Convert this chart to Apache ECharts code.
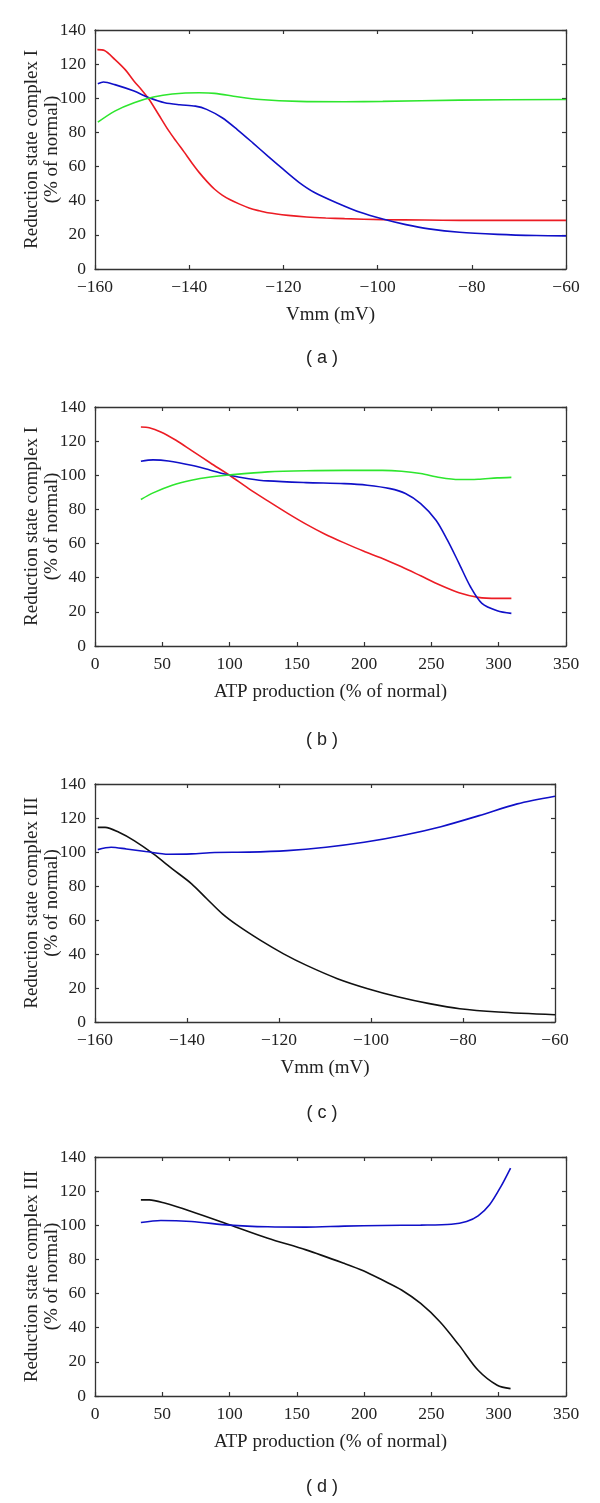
<!DOCTYPE html>
<html><head><meta charset="utf-8">
<script src="https://cdn.jsdelivr.net/npm/echarts@6/dist/echarts.min.js"></script>
<style>html,body{margin:0;padding:0;background:#fff}#c{width:600px;height:1503px}</style>
</head><body><div id="c"></div>
<script>
// ---------- Panel (a): Reduction state complex I vs Vmm ----------
const aRedX   = [-159.5,-158,-155.8,-153.5,-151.7,-150,-148.5,-146.5,-144.4,-142.7,-141.1,-139.5,-137.9,-136.2,-134.6,-133,-131.4,-129.3,-127.3,-125.3,-123.3,-119,-115.1,-111,-107,-98.9,-90,-82.6,-70,-60];
const aRedY   = [128.5,128,122.8,116.5,110,104.6,99.3,90.5,81.2,74.6,68.6,62.4,56.6,51.2,46.7,43.3,40.7,38,35.8,34.2,32.9,31.4,30.5,29.9,29.5,28.9,28.7,28.5,28.5,28.5];
const aBlueX  = [-159.4,-158.2,-155.8,-151.7,-148.5,-145.2,-142,-138.7,-136.3,-133,-129.8,-126.5,-123.3,-120,-116.7,-113.5,-108.6,-103.7,-98.9,-94,-89.1,-82.6,-74.5,-66.3,-60];
const aBlueY  = [108.5,109.5,108,104.2,100.3,97.4,96.2,95.4,93.5,88.6,81.7,73.9,66.1,58.3,50.8,45,38.7,33.2,29.3,26,23.5,21.5,20.3,19.6,19.4];
const aGreenX = [-159.4,-155.8,-151.7,-147.6,-143.6,-137.9,-134.6,-129.8,-124.9,-116.7,-107,-98.9,-82.6,-60];
const aGreenY = [86,92.5,97.4,100.7,102.5,103.2,102.9,100.9,99.3,98.2,98,98.2,98.9,99.3];

// ---------- Panel (b): Reduction state complex I vs ATP production ----------
const bRedX   = [34.1,40.3,48.9,60.2,71.6,85.8,100,114.2,128.4,142.6,156.8,171,185.2,199.4,213.6,227.8,242,256.3,270.5,284.7,298.9,309.4];
const bRedY   = [128.3,127.9,125.4,120.5,114.6,107.2,100,92.2,85,78,71.4,65.5,60.4,55.6,51.3,46.4,41.1,35.7,31.2,28.5,27.9,27.9];
const bBlueX  = [34.1,43.2,54.5,71.6,85.8,100,114.2,128.4,156.8,185.2,202.3,219.3,230.7,242,253.4,261.9,270.5,279,287.5,298.9,309.4];
const bBlueY  = [108.2,109,108.4,105.9,103,100,98,96.7,95.7,95.1,94.2,92.2,89.3,83.4,73.7,62,48.4,34.7,25,20.7,19.1];
const bGreenX = [34.1,43.2,57.4,71.6,85.8,100,128.4,156.8,185.2,213.6,227.8,242,256.3,270.5,284.7,298.9,309.4];
const bGreenY = [85.8,89.7,94.2,97.1,99,100.2,102,102.7,102.9,102.9,102.4,101,98.7,97.5,97.7,98.5,98.8];

// ---------- Panel (c): Reduction state complex III vs Vmm ----------
const cBlackX = [-159.4,-157.8,-154.8,-151.5,-147.3,-143.2,-139,-135.7,-132.3,-129,-124,-119,-114,-107.3,-100.7,-94,-87.3,-80.7,-72.3,-60];
const cBlackY = [114.5,114.5,111.6,106.7,98.9,90.1,81.3,72.5,63.6,56.8,48,40.1,33.3,25.5,19.6,14.7,10.8,7.8,5.9,4.3];
const cBlueX  = [-159.4,-156.5,-153.2,-149,-144,-139,-134,-126.5,-118.2,-109.8,-101.5,-93.2,-84.8,-76.5,-68.2,-60];
const cBlueY  = [101.4,102.8,101.8,100.3,98.7,98.9,99.7,99.9,100.8,102.8,105.7,109.7,114.9,121.4,128.3,132.8];

// ---------- Panel (d): Reduction state complex III vs ATP production ----------
const dBlackX = [34.1,40.3,51.7,71.6,100,128.4,156.8,185.2,199.4,213.6,227.8,242,256.3,270.5,284.7,298.9,308.8];
const dBlackY = [114.9,114.9,113,108.1,100.3,92.4,85.6,77.7,73.4,67.9,62.1,54.2,43.5,29.8,15.1,6.3,4.3];
const dBlueX  = [34.1,48.9,71.6,100,128.4,156.8,185.2,213.6,242,264.8,276.1,284.7,293.2,301.7,308.8];
const dBlueY  = [101.6,102.8,102.2,100.1,99.1,98.9,99.5,99.9,100.1,100.6,102.2,105.5,112,122.8,133.5];

// ---------- Axis / label text ----------
const vmmTicks = {min:-160, max:-60, interval:20};
const atpTicks = {min:0, max:350, interval:50};
const yTicks   = {min:0, max:140, interval:20};
const xNames = ['Vmm (mV)','ATP production (% of normal)','Vmm (mV)','ATP production (% of normal)'];
const yNames = ['Reduction state complex I\n(% of normal)','Reduction state complex I\n(% of normal)',
                'Reduction state complex III\n(% of normal)','Reduction state complex III\n(% of normal)'];
const panelLabels = ['( a )','( b )','( c )','( d )'];

const RED='#ec1c24', GREEN='#2ee62e', BLUE='#1010c8', BLACK='#111111';
const SERIF = '"Liberation Serif","DejaVu Serif",serif';

const pair = (xs, ys) => xs.map((x,i)=>[x,ys[i]]);

const grids = [
  {left:95, width:471, top:30,   height:239},
  {left:95, width:471, top:407,  height:239},
  {left:95, width:460, top:784,  height:238},
  {left:95, width:471, top:1157, height:239}
];
const labelY = [358, 740, 1113, 1487];
const xTickSets = [vmmTicks, atpTicks, vmmTicks, atpTicks];

const axisLine = {show:true, onZero:false, lineStyle:{color:'#333', width:1.3}};
const tickIn = {show:true, inside:true, length:4, lineStyle:{color:'#333', width:1.2}};
const fmt = v => String(v).replace('-', '\u2212');

const xAxis = [], yAxis = [];
grids.forEach((g, i) => {
  const t = xTickSets[i];
  xAxis.push({type:'value', gridIndex:i, position:'bottom', min:t.min, max:t.max, interval:t.interval,
    axisLine, axisTick:tickIn, splitLine:{show:false},
    axisLabel:{color:'#222', fontFamily:SERIF, fontSize:17.5, margin:9, formatter:fmt},
    name:xNames[i], nameLocation:'middle', nameGap:37, nameMoveOverlap:false,
    nameTextStyle:{color:'#222', fontFamily:SERIF, fontSize:19}});
  xAxis.push({type:'value', gridIndex:i, position:'top', min:t.min, max:t.max, interval:t.interval,
    axisLine, axisTick:tickIn, axisLabel:{show:false}, splitLine:{show:false}});
  yAxis.push({type:'value', gridIndex:i, position:'left', min:yTicks.min, max:yTicks.max, interval:yTicks.interval,
    axisLine, axisTick:tickIn, splitLine:{show:false},
    axisLabel:{color:'#222', fontFamily:SERIF, fontSize:17.5, margin:9},
    name:yNames[i], nameLocation:'middle', nameGap:33, nameRotate:90, nameMoveOverlap:false,
    nameTextStyle:{color:'#222', fontFamily:SERIF, fontSize:19, lineHeight:20, align:'center'}});
  yAxis.push({type:'value', gridIndex:i, position:'right', min:yTicks.min, max:yTicks.max, interval:yTicks.interval,
    axisLine, axisTick:tickIn, axisLabel:{show:false}, splitLine:{show:false}});
});

const line = (i, xs, ys, color) => ({type:'line', xAxisIndex:2*i, yAxisIndex:2*i, data:pair(xs,ys),
  showSymbol:false, smooth:0.3, lineStyle:{color, width:1.6}, itemStyle:{color}, silent:true, z:3});

const series = [
  line(0, aRedX, aRedY, RED), line(0, aBlueX, aBlueY, BLUE), line(0, aGreenX, aGreenY, GREEN),
  line(1, bRedX, bRedY, RED), line(1, bBlueX, bBlueY, BLUE), line(1, bGreenX, bGreenY, GREEN),
  line(2, cBlackX, cBlackY, BLACK), line(2, cBlueX, cBlueY, BLUE),
  line(3, dBlackX, dBlackY, BLACK), line(3, dBlueX, dBlueY, BLUE)
];

const chart = echarts.init(document.getElementById('c'), null, {renderer:'canvas'});
chart.setOption({
  backgroundColor:'#fff', animation:false,
  grid: grids.map(g=>Object.assign({containLabel:false}, g)),
  xAxis, yAxis, series,
  graphic: panelLabels.map((t,i)=>({type:'text', x:322, y:labelY[i],
    style:{text:t, fontFamily:'"Liberation Sans",Arial,sans-serif', fontSize:18, fill:'#222',
      textAlign:'center', textVerticalAlign:'middle'}}))
});
</script></body></html>
